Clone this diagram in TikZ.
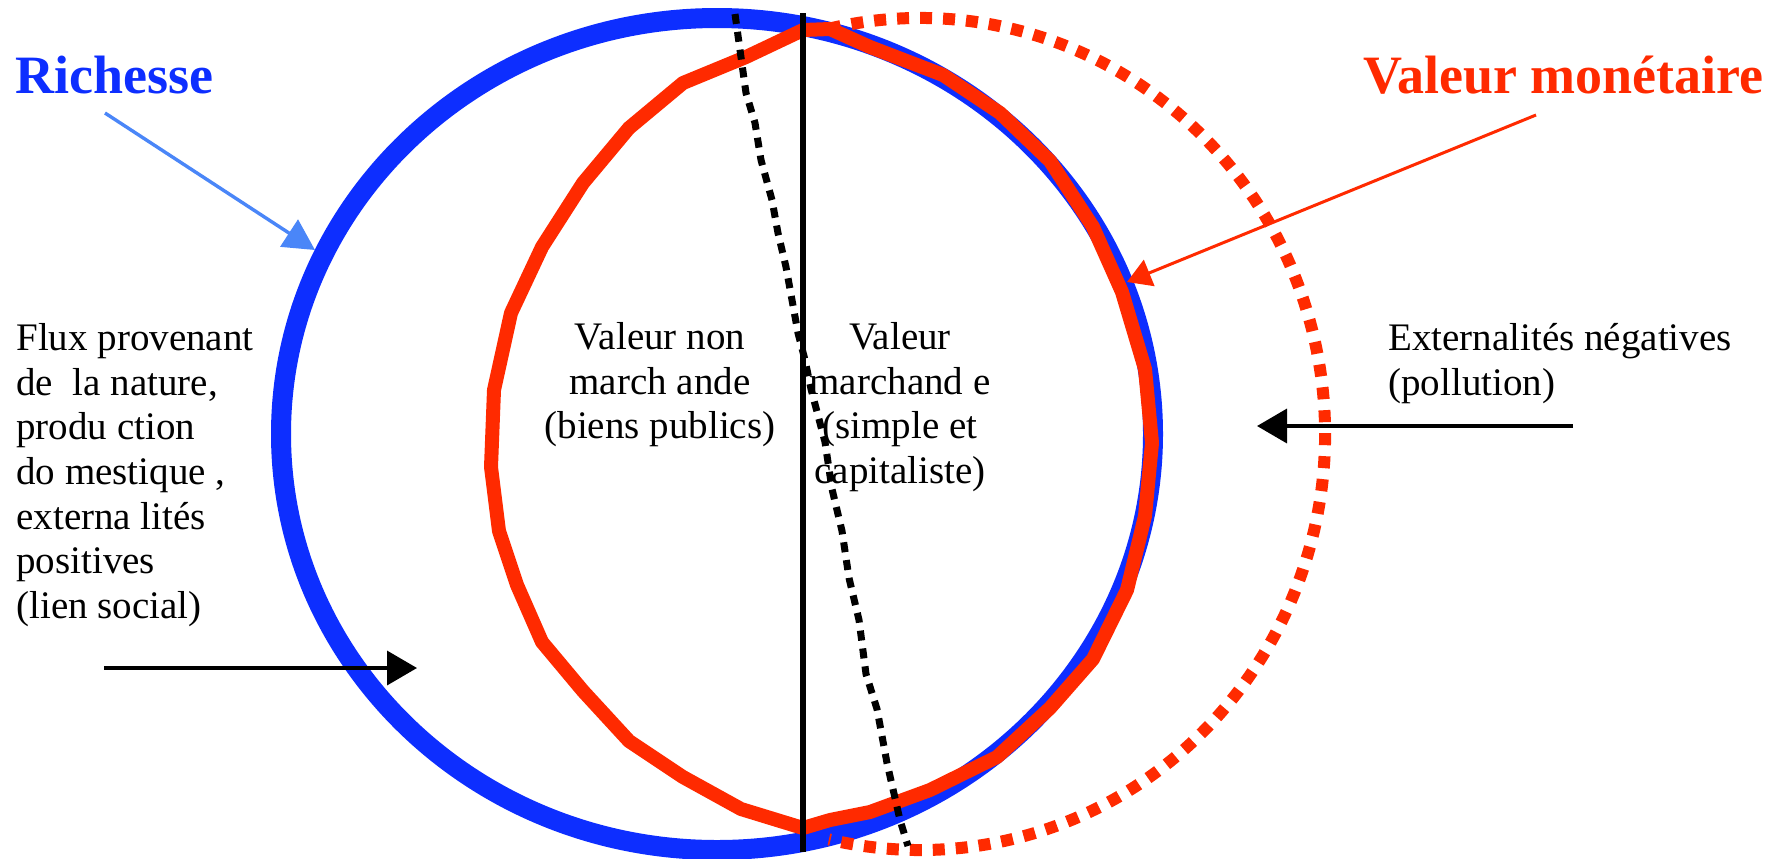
\documentclass[tikz,border=0pt]{standalone}
\usepackage{fontspec}
\setmainfont{Liberation Serif}
\usetikzlibrary{arrows.meta}

\definecolor{richblue}{RGB}{13,46,255}
\definecolor{arrowblue}{RGB}{74,134,248}
\definecolor{monred}{RGB}{255,42,0}

\begin{document}
\begin{tikzpicture}[x=0.5pt, y=-0.5pt,
		every node/.style={inner sep=0pt, font=\fontsize{19.5}{22.35}\selectfont},
		titre/.style={anchor=base west, font=\fontsize{27}{30}\selectfont\bfseries},
		bloc/.style={anchor=north west, align=left},
		fleche/.style={line width=1.8pt, -{Triangle[length=15pt,width=17pt]}}]
			\fill[white] (0,0) rectangle (1787,858);
			\useasboundingbox (0,0) rectangle (1787,858);
			% richesse, valeur monetaire, externalites
			\draw[richblue, line width=10pt] (717,434) ellipse [x radius=436, y radius=416];
			\draw[monred, line width=7pt, line join=round] (803,30) -- (830,29) -- (870,47) -- (943,75) -- (1000,113)
				-- (1050,161) -- (1093,227) -- (1122,292) -- (1145,369) -- (1152,443) -- (1145,516) -- (1127,590)
				-- (1093,659) -- (1050,708) -- (997,757) -- (930,790) -- (870,812) -- (830,820) -- (803,828)
				-- (741,809) -- (683,777) -- (629,741) -- (583,691) -- (542,642) -- (517,585) -- (499,531)
				-- (491,467) -- (494,390) -- (511,313) -- (542,247) -- (583,183) -- (629,128) -- (683,83)
				-- (746,57) -- cycle;
			\draw[monred, line width=6pt, dash pattern=on 6pt off 5.5pt] (828.9,28.7)
				arc[start angle=-103, end angle=103, x radius=405, y radius=416];
			\draw[line width=3.5pt, dash pattern=on 5pt off 4pt] (735,14) -- (740,50) -- (746,93) -- (755,123)
				-- (761,160) -- (772,200) -- (778,233) -- (786,267) -- (792,300) -- (798,333) -- (805,360)
				-- (811,389) -- (825,442) -- (832,489) -- (842,531) -- (849,578) -- (859,620) -- (866,674)
				-- (877,709) -- (887,763) -- (895,798) -- (900,820) -- (908,846);
			\draw[line width=3pt] (803,13) -- (803,852);
			\node[titre, richblue] (richesse) at (15,93) {Richesse};
			\node[titre, monred] (monetaire) at (1363,93) {Valeur monétaire};
			\node[bloc] (flux) at (16,323) {Flux provenant\\de\ \ la nature,\\produ ction\\do mestique ,\\externa lités\\positives\\(lien social)};
			\node[anchor=north, align=center] (nonmarch) at (660,322) {Valeur non\\march ande\\(biens publics)};
			\node[anchor=north, align=center] (march) at (900,322) {Valeur\\marchand e\\(simple et\\capitaliste)};
			\node[bloc] (negatives) at (1388,323) {Externalités négatives\\(pollution)};
			\coordinate (ra) at (105,113); \coordinate (rb) at (315,250);
			\coordinate (ma) at (1536,115); \coordinate (mb) at (1127,282);
			\coordinate (fa) at (104,668); \coordinate (fb) at (417,668);
			\coordinate (ea) at (1573,426); \coordinate (eb) at (1257,426);
			\draw[arrowblue, line width=1.7pt, -{Triangle[length=15.5pt,width=16pt]}] (ra) -- (rb);
			\draw[monred, line width=1.5pt, -{Triangle[length=12pt,width=14pt]}] (ma) -- (mb);
			\draw[fleche] (fa) -- (fb);
			\draw[fleche] (ea) -- (eb);
		\end{tikzpicture}
\end{document}
